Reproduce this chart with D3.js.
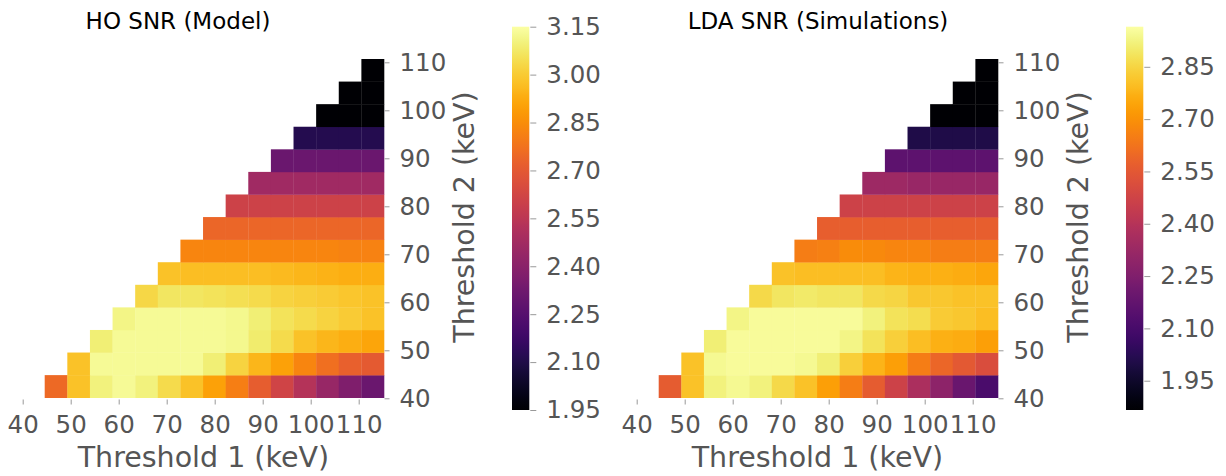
<!DOCTYPE html>
<html>
<head>
<meta charset="utf-8">
<script src="https://cdn.jsdelivr.net/npm/d3@7"></script>
<style>
  body { margin: 0; background: #fff; }
  text { font-family: "DejaVu Sans", sans-serif; }
</style>
</head>
<body>
<svg></svg>
<script>
// threshold values of the grid (rows = threshold 2, columns = threshold 1)
const thresholds = [40, 45, 50, 55, 60, 65, 70, 75, 80, 85, 90, 95, 100, 105, 110];
const axisTicks = [40, 50, 60, 70, 80, 90, 100, 110];

// SNR values, one row per threshold 2 (bottom row first), null = no cell
const hoSNR = [
  [2.75, 2.98, 3.10, 3.13, 3.10, 3.04, 2.98, 2.90, 2.81, 2.71, 2.62, 2.53, 2.44, 2.37, 2.31],
  [null, 2.98, 3.13, 3.13, 3.13, 3.13, 3.13, 3.09, 3.02, 2.95, 2.90, 2.83, 2.77, 2.72, 2.70],
  [null, null, 3.09, 3.13, 3.13, 3.13, 3.13, 3.13, 3.12, 3.08, 3.04, 2.98, 2.95, 2.93, 2.91],
  [null, null, null, 3.11, 3.13, 3.13, 3.13, 3.13, 3.12, 3.09, 3.06, 3.04, 3.02, 3.00, 2.98],
  [null, null, null, null, 3.03, 3.07, 3.07, 3.06, 3.05, 3.04, 3.02, 3.01, 3.00, 2.99, 2.98],
  [null, null, null, null, null, 2.98, 2.97, 2.97, 2.97, 2.97, 2.96, 2.95, 2.94, 2.93, 2.93],
  [null, null, null, null, null, null, 2.83, 2.83, 2.83, 2.83, 2.83, 2.83, 2.83, 2.82, 2.82],
  [null, null, null, null, null, null, null, 2.74, 2.74, 2.74, 2.74, 2.74, 2.74, 2.74, 2.74],
  [null, null, null, null, null, null, null, null, 2.61, 2.61, 2.61, 2.61, 2.61, 2.61, 2.61],
  [null, null, null, null, null, null, null, null, null, 2.47, 2.47, 2.47, 2.47, 2.47, 2.47],
  [null, null, null, null, null, null, null, null, null, null, 2.31, 2.31, 2.31, 2.31, 2.31],
  [null, null, null, null, null, null, null, null, null, null, null, 2.11, 2.11, 2.11, 2.11],
  [null, null, null, null, null, null, null, null, null, null, null, null, 1.93, 1.93, 1.93],
  [null, null, null, null, null, null, null, null, null, null, null, null, null, 1.92, 1.92],
  [null, null, null, null, null, null, null, null, null, null, null, null, null, null, 1.91]
];

const ldaSNR = [
  [2.56, 2.81, 2.92, 2.94, 2.92, 2.86, 2.81, 2.73, 2.65, 2.56, 2.47, 2.37, 2.29, 2.19, 2.11],
  [null, 2.81, 2.94, 2.95, 2.95, 2.95, 2.94, 2.91, 2.84, 2.78, 2.73, 2.65, 2.59, 2.55, 2.51],
  [null, null, 2.91, 2.95, 2.95, 2.95, 2.95, 2.95, 2.93, 2.88, 2.84, 2.80, 2.77, 2.76, 2.73],
  [null, null, null, 2.93, 2.95, 2.95, 2.95, 2.95, 2.95, 2.92, 2.88, 2.87, 2.83, 2.82, 2.80],
  [null, null, null, null, 2.86, 2.89, 2.90, 2.89, 2.89, 2.86, 2.85, 2.82, 2.82, 2.81, 2.81],
  [null, null, null, null, null, 2.81, 2.80, 2.80, 2.80, 2.80, 2.78, 2.77, 2.77, 2.76, 2.75],
  [null, null, null, null, null, null, 2.65, 2.66, 2.69, 2.68, 2.67, 2.67, 2.65, 2.65, 2.65],
  [null, null, null, null, null, null, null, 2.57, 2.57, 2.57, 2.57, 2.57, 2.57, 2.57, 2.57],
  [null, null, null, null, null, null, null, null, 2.47, 2.47, 2.47, 2.47, 2.47, 2.47, 2.47],
  [null, null, null, null, null, null, null, null, null, 2.33, 2.33, 2.32, 2.32, 2.32, 2.32],
  [null, null, null, null, null, null, null, null, null, null, 2.16, 2.16, 2.16, 2.16, 2.16],
  [null, null, null, null, null, null, null, null, null, null, null, 2.00, 2.00, 2.00, 2.00],
  [null, null, null, null, null, null, null, null, null, null, null, null, 1.86, 1.86, 1.86],
  [null, null, null, null, null, null, null, null, null, null, null, null, null, 1.86, 1.86],
  [null, null, null, null, null, null, null, null, null, null, null, null, null, null, 1.86]
];

// colorbar ranges and ticks
const hoRange = [1.95, 3.15];
const ldaRange = [1.866, 2.965];
const hoTicks = [1.95, 2.10, 2.25, 2.40, 2.55, 2.70, 2.85, 3.00, 3.15];
const ldaTicks = [1.95, 2.10, 2.25, 2.40, 2.55, 2.70, 2.85];

const width = 1226;
const height = 476;
const grey = "#555";

const svg = d3.select("svg")
  .attr("width", width)
  .attr("height", height);

function drawPanel(offset, id, title, titleX, values, range, cbTicks) {
  const g = svg.append("g").attr("transform", `translate(${offset}, 0)`);

  // cell scales and tick-label scales
  const xBand = d3.scaleBand().domain(thresholds).range([44.7, 384]);
  const yBand = d3.scaleBand().domain(thresholds).range([397.7, 59]);
  const xScale = d3.scaleLinear().domain([40, 110]).range([22.7, 358.7]);
  const yScale = d3.scaleLinear().domain([40, 110]).range([398.3, 62.3]);

  const color = d3.scaleSequential(d3.interpolateInferno).domain(range).clamp(true);

  const cells = [];
  values.forEach((row, i) => row.forEach((v, j) => {
    if (v !== null) cells.push({ t1: thresholds[j], t2: thresholds[i], v: v });
  }));

  g.selectAll(".cell")
    .data(cells)
    .enter()
    .append("rect")
    .attr("class", "cell")
    .attr("x", d => xBand(d.t1))
    .attr("y", d => yBand(d.t2))
    .attr("width", xBand.bandwidth() + 0.3)
    .attr("height", yBand.bandwidth() + 0.3)
    .attr("fill", d => color(d.v));

  // x axis
  const xAxis = g.append("g")
    .attr("transform", "translate(0, 399.5)")
    .call(d3.axisBottom(xScale).tickValues(axisTicks).tickSize(5).tickPadding(11));

  // y axis on the right
  const yAxis = g.append("g")
    .attr("transform", "translate(384.5, 0)")
    .call(d3.axisRight(yScale).tickValues(axisTicks).tickSize(5).tickPadding(10));

  [xAxis, yAxis].forEach(a => {
    a.select(".domain").remove();
    a.selectAll("line").attr("stroke", "#999");
    a.selectAll("text").attr("fill", grey).style("font-size", "24.5px");
  });

  g.append("text")
    .attr("x", 203.4)
    .attr("y", 467)
    .attr("text-anchor", "middle")
    .attr("fill", grey)
    .style("font-size", "28.5px")
    .text("Threshold 1 (keV)");

  g.append("text")
    .attr("transform", "translate(474, 217) rotate(-90)")
    .attr("text-anchor", "middle")
    .attr("fill", grey)
    .style("font-size", "28.5px")
    .text("Threshold 2 (keV)");

  svg.append("text")
    .attr("x", titleX)
    .attr("y", 29)
    .attr("text-anchor", "middle")
    .attr("fill", "#000")
    .style("font-size", "23px")
    .text(title);

  // colorbar
  const cbX = 512, cbW = 17.3, cbTop = 26.7, cbBottom = 410;
  const grad = svg.append("defs").append("linearGradient")
    .attr("id", id)
    .attr("x1", 0).attr("y1", 1).attr("x2", 0).attr("y2", 0);
  d3.range(0, 1.0001, 0.02).forEach(t => {
    grad.append("stop")
      .attr("offset", t)
      .attr("stop-color", d3.interpolateInferno(t));
  });

  g.append("rect")
    .attr("x", cbX)
    .attr("y", cbTop)
    .attr("width", cbW)
    .attr("height", cbBottom - cbTop)
    .attr("fill", `url(#${id})`);

  const cbScale = d3.scaleLinear().domain(range).range([cbBottom, cbTop]);
  const cbAxis = g.append("g")
    .attr("transform", `translate(${cbX + cbW + 1}, 0)`)
    .call(d3.axisRight(cbScale).tickValues(cbTicks).tickFormat(d3.format(".2f")).tickSize(6).tickPadding(10));
  cbAxis.select(".domain").remove();
  cbAxis.selectAll("line").attr("stroke", "#999");
  cbAxis.selectAll("text").attr("fill", grey).style("font-size", "24.5px");
}

drawPanel(0, "gradHO", "HO SNR (Model)", 178, hoSNR, hoRange, hoTicks);
drawPanel(614, "gradLDA", "LDA SNR (Simulations)", 818, ldaSNR, ldaRange, ldaTicks);
</script>
</body>
</html>
